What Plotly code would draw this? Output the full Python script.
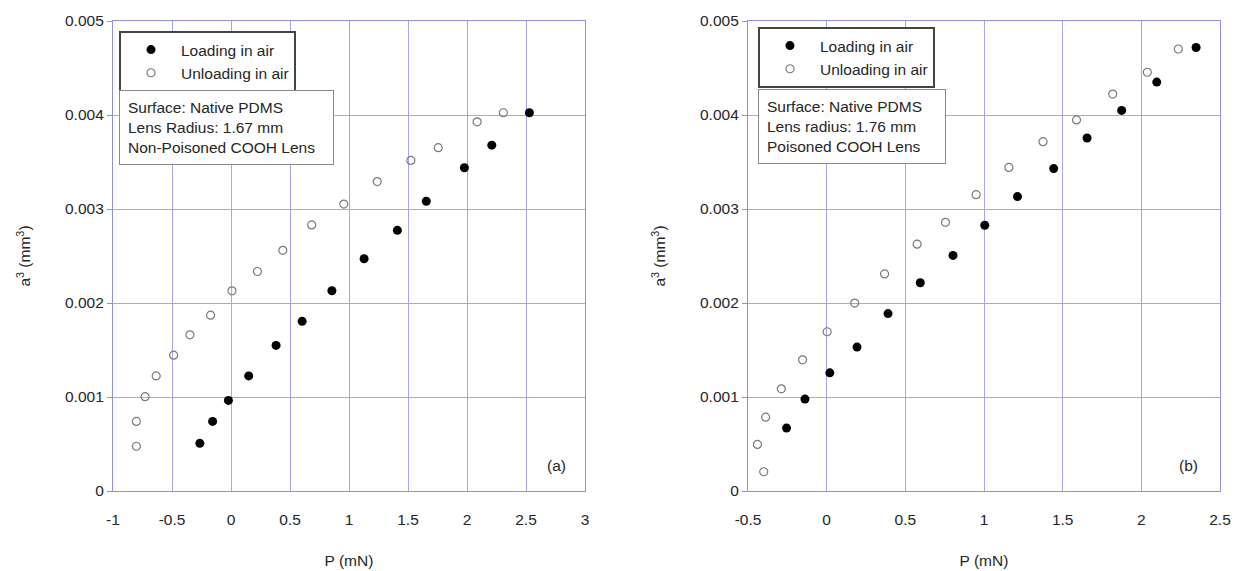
import plotly.graph_objects as go

# ---------------- data ----------------
# Panel (a): Native PDMS, lens radius 1.67 mm, non-poisoned COOH lens
a_load_P = [-0.264, -0.156, -0.022, 0.150, 0.382, 0.603, 0.855, 1.128, 1.410, 1.655, 1.978, 2.210, 2.529]
a_load_A = [0.000507, 0.000740, 0.000964, 0.001224, 0.001549, 0.001805, 0.002130, 0.002471,
            0.002773, 0.003083, 0.003439, 0.003679, 0.004024]
a_unload_P = [-0.802, -0.802, -0.728, -0.634, -0.486, -0.348, -0.173, 0.008, 0.224, 0.439,
              0.684, 0.956, 1.239, 1.524, 1.756, 2.086, 2.308]
a_unload_A = [0.000476, 0.000740, 0.001003, 0.001224, 0.001445, 0.001661, 0.001871, 0.002130,
              0.002335, 0.002560, 0.002831, 0.003052, 0.003292, 0.003517, 0.003652, 0.003927, 0.004024]

# Panel (b): Native PDMS, lens radius 1.76 mm, poisoned COOH lens
b_load_P = [-0.255, -0.138, 0.020, 0.193, 0.390, 0.595, 0.803, 1.005, 1.213, 1.443, 1.655, 1.875, 2.098, 2.348]
b_load_A = [0.000669, 0.000978, 0.001257, 0.001531, 0.001887, 0.002216, 0.002506, 0.002827,
            0.003132, 0.003430, 0.003755, 0.004049, 0.004350, 0.004718]
b_unload_P = [-0.400, -0.440, -0.388, -0.288, -0.153, 0.003, 0.178, 0.368, 0.575, 0.755,
              0.950, 1.158, 1.375, 1.588, 1.818, 2.038, 2.235]
b_unload_A = [0.000205, 0.000495, 0.000785, 0.001087, 0.001396, 0.001694, 0.001999, 0.002309,
              0.002626, 0.002858, 0.003152, 0.003442, 0.003716, 0.003948, 0.004223, 0.004455, 0.004702]

series_names = ["Loading in air", "Unloading in air"]

a_x_tickvals = [-1, -0.5, 0, 0.5, 1, 1.5, 2, 2.5, 3]
a_x_ticktext = ["-1", "-0.5", "0", "0.5", "1", "1.5", "2", "2.5", "3"]
b_x_tickvals = [-0.5, 0, 0.5, 1, 1.5, 2, 2.5]
b_x_ticktext = ["-0.5", "0", "0.5", "1", "1.5", "2", "2.5"]
y_tickvals = [0, 0.001, 0.002, 0.003, 0.004, 0.005]
y_ticktext = ["0", "0.001", "0.002", "0.003", "0.004", "0.005"]

a_info = ["Surface: Native PDMS", "Lens Radius: 1.67 mm", "Non-Poisoned COOH Lens"]
b_info = ["Surface: Native PDMS", "Lens radius: 1.76 mm", "Poisoned COOH Lens"]

# ---------------- styling ----------------
W, H = 1236, 571
FONT = "Arial, 'Liberation Sans', sans-serif"
TXT = "#262626"
GRID = "#a6a6e8"
FRAME = "#9090dd"
FS = 15.5

filled = dict(symbol="circle", size=9, color="black", line=dict(width=0))
hollow = dict(symbol="circle-open", size=8, color="#7a7a7a", line=dict(width=1.2))

fig = go.Figure()
fig.add_trace(go.Scatter(x=a_load_P, y=a_load_A, mode="markers", name=series_names[0],
                         marker=filled, xaxis="x", yaxis="y", legend="legend"))
fig.add_trace(go.Scatter(x=a_unload_P, y=a_unload_A, mode="markers", name=series_names[1],
                         marker=hollow, xaxis="x", yaxis="y", legend="legend"))
fig.add_trace(go.Scatter(x=b_load_P, y=b_load_A, mode="markers", name=series_names[0],
                         marker=filled, xaxis="x2", yaxis="y2", legend="legend2"))
fig.add_trace(go.Scatter(x=b_unload_P, y=b_unload_A, mode="markers", name=series_names[1],
                         marker=hollow, xaxis="x2", yaxis="y2", legend="legend2"))


def xaxis(domain, rng, vals, text, anchor):
    return dict(domain=domain, range=rng, anchor=anchor, tickmode="array", tickvals=vals,
                ticktext=text, showgrid=True, gridcolor=GRID, gridwidth=1, zeroline=False,
                showline=True, linecolor=FRAME, linewidth=1.2, mirror=True, ticks="",
                ticklabelstandoff=14, tickfont=dict(family=FONT, size=FS, color=TXT),
                title=dict(text="P (mN)", standoff=28, font=dict(family=FONT, size=FS, color=TXT)),
                automargin=False, fixedrange=True)


def yaxis(domain, anchor):
    return dict(domain=domain, range=[0, 0.005], anchor=anchor, tickmode="array",
                tickvals=y_tickvals, ticktext=y_ticktext, showgrid=True, gridcolor=GRID,
                gridwidth=1, zeroline=False, showline=True, linecolor=FRAME, linewidth=1.2,
                mirror=True, ticks="outside", ticklen=5, tickcolor=FRAME,
                tickfont=dict(family=FONT, size=FS, color=TXT),
                title=dict(text="a<sup>3</sup> (mm<sup>3</sup>)", standoff=30,
                           font=dict(family=FONT, size=FS, color=TXT)),
                automargin=False, fixedrange=True)


ydom = [1 - 491 / H, 1 - 21 / H]

legend_common = dict(xref="paper", yref="paper", xanchor="left", yanchor="top",
                     bgcolor="white", bordercolor="#444444", borderwidth=2,
                     font=dict(family=FONT, size=FS, color=TXT), itemwidth=50,
                     tracegroupgap=0)


def info_box(lines, x, y, width):
    return dict(text="<br>".join(lines), xref="paper", yref="paper", x=x, y=y,
                xanchor="left", yanchor="top", showarrow=False, align="left",
                bgcolor="white", bordercolor="#8a8a8a", borderwidth=1, borderpad=8,
                width=width, font=dict(family=FONT, size=FS, color=TXT))


fig.update_layout(
    width=W, height=H,
    margin=dict(l=0, r=0, t=0, b=0),
    paper_bgcolor="white", plot_bgcolor="white",
    showlegend=True,
    xaxis=xaxis([113 / W, 585 / W], [-1, 3], a_x_tickvals, a_x_ticktext, "y"),
    yaxis=yaxis(ydom, "x"),
    xaxis2=xaxis([748 / W, 1220 / W], [-0.5, 2.5], b_x_tickvals, b_x_ticktext, "y2"),
    yaxis2=yaxis(ydom, "x2"),
    legend=dict(x=119 / W, y=1 - 31 / H, **legend_common),
    legend2=dict(x=758 / W, y=1 - 27 / H, **legend_common),
    annotations=[
        info_box(a_info, 119 / W, 1 - 90 / H, 197),
        info_box(b_info, 758 / W, 1 - 89 / H, 170),
        dict(text="(a)", x=2.76, y=0.00027, xref="x", yref="y", showarrow=False,
             font=dict(family=FONT, size=FS, color=TXT)),
        dict(text="(b)", x=2.297, y=0.000276, xref="x2", yref="y2", showarrow=False,
             font=dict(family=FONT, size=FS, color=TXT)),
    ],
)

fig.write_html("out.html")
